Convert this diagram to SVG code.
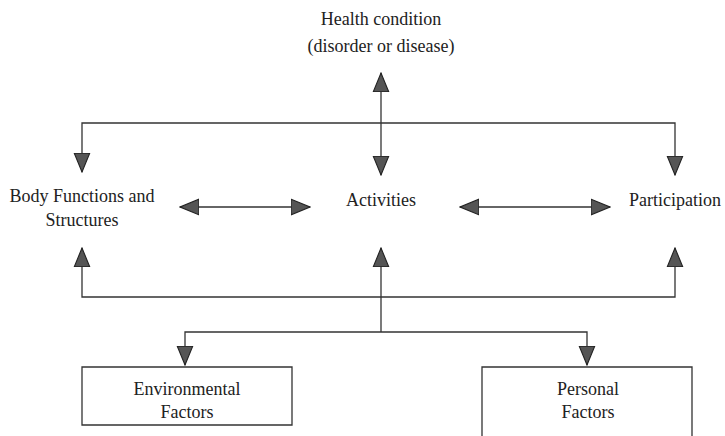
<svg xmlns="http://www.w3.org/2000/svg" width="725" height="436" viewBox="0 0 725 436">
<style>
text{font-family:"Liberation Serif","Times New Roman",serif;font-size:18px;fill:#222;text-anchor:middle}
.c{fill:none;stroke:#333;stroke-width:1.3}
.box{fill:#fff;stroke:#333;stroke-width:1.3}
</style>
<defs>
<marker id="ah" markerUnits="userSpaceOnUse" markerWidth="20" markerHeight="20" viewBox="0 -9 18 18" refX="17" refY="0" orient="auto-start-reverse">
<path d="M0,-7 L17,0 L0,7 z" fill="#555" stroke="#222" stroke-width="1"/>
</marker>
</defs>
<rect width="725" height="436" fill="#fff"/>
<g id="connectors">
<path class="c" d="M381,175 V73" marker-start="url(#ah)" marker-end="url(#ah)"/>
<path class="c" d="M82,172 V123 H675 V175" marker-start="url(#ah)" marker-end="url(#ah)"/>
<path class="c" d="M180,207 H310" marker-start="url(#ah)" marker-end="url(#ah)"/>
<path class="c" d="M460,207 H610" marker-start="url(#ah)" marker-end="url(#ah)"/>
<path class="c" d="M82,248 V297 H675 V248" marker-start="url(#ah)" marker-end="url(#ah)"/>
<path class="c" d="M381,332 V248" marker-end="url(#ah)"/>
<path class="c" d="M185,365 V332 H587 V365" marker-start="url(#ah)" marker-end="url(#ah)"/>
</g>
<g id="health">
<text x="381" y="25">Health condition</text>
<text x="381" y="52">(disorder or disease)</text>
</g>
<g id="body">
<text x="82" y="202">Body Functions and</text>
<text x="82" y="226">Structures</text>
</g>
<g id="activities">
<text x="381" y="206">Activities</text>
</g>
<g id="participation">
<text x="675" y="206">Participation</text>
</g>
<g id="environmental">
<path class="box" d="M82,367 H292 V425 H82 Z"/>
<text x="187" y="395">Environmental</text>
<text x="187" y="418">Factors</text>
</g>
<g id="personal">
<path class="box" d="M482,437 V367 H692 V437"/>
<text x="588" y="395">Personal</text>
<text x="588" y="418">Factors</text>
</g>
</svg>
